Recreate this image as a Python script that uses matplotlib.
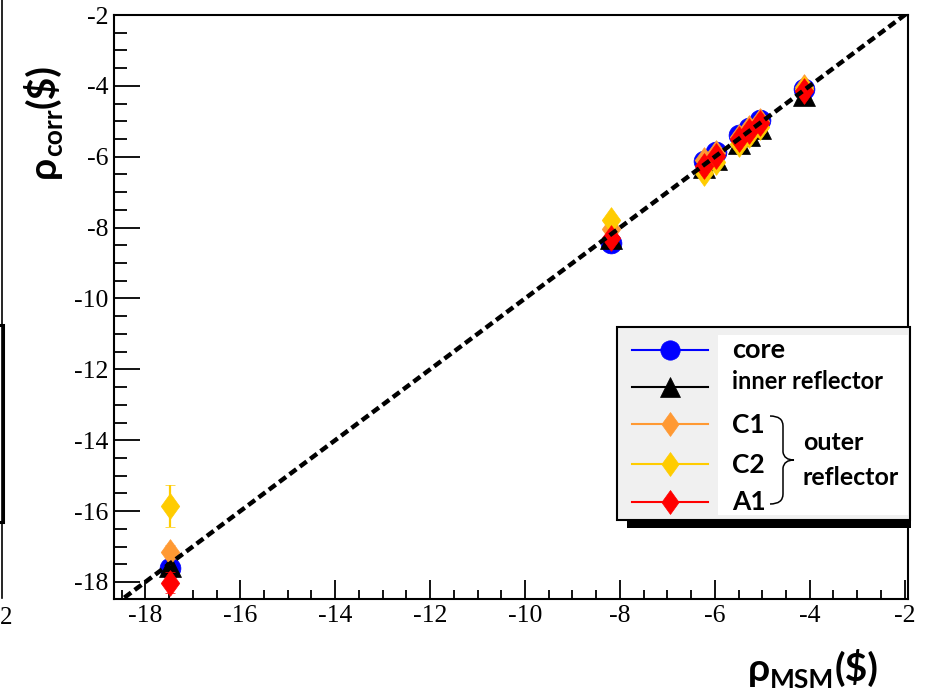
import matplotlib
matplotlib.use('Agg')
import matplotlib.pyplot as plt
from matplotlib.path import Path
from matplotlib.patches import Rectangle, PathPatch
from matplotlib.ticker import MultipleLocator, FixedLocator, FixedFormatter

# ---------------- data ----------------
rho_msm = [-17.48, -8.18, -6.22, -5.98, -5.50, -5.28, -5.05, -4.13]
rho_core = [-17.60, -8.42, -6.12, -5.87, -5.40, -5.18, -4.95, -4.08]
rho_inner = [-17.55, -8.30, -6.30, -6.05, -5.60, -5.40, -5.20, -4.25]
rho_c1 = [-17.15, -8.05, -6.10, -5.90, -5.45, -5.20, -5.00, -4.02]
rho_c2 = [-15.85, -7.78, -6.45, -6.15, -5.65, -5.40, -5.15, -4.10]
rho_a1 = [-18.02, -8.28, -6.25, -5.98, -5.50, -5.28, -5.05, -4.15]
err_core = [0.15, 0.10, 0.10, 0.10, 0.10, 0.10, 0.10, 0.10]
err_inner = [0.30, 0.10, 0.10, 0.10, 0.10, 0.10, 0.10, 0.10]
err_c1 = [0.20, 0.10, 0.10, 0.10, 0.10, 0.10, 0.10, 0.10]
err_c2 = [0.60, 0.10, 0.10, 0.10, 0.10, 0.10, 0.10, 0.10]
err_a1 = [0.30, 0.10, 0.10, 0.10, 0.10, 0.10, 0.10, 0.10]
series_labels = ['core', 'inner reflector', 'C1', 'C2', 'A1']
x_ticks = [-18, -16, -14, -12, -10, -8, -6, -4, -2]
x_tick_labels = ['-18', '-16', '-14', '-12', '-10', '-8', '-6', '-4', '-2']
y_ticks = [-18, -16, -14, -12, -10, -8, -6, -4, -2]
y_tick_labels = ['-18', '-16', '-14', '-12', '-10', '-8', '-6', '-4', '-2']
x_limits = (-18.66, -1.93)
y_limits = (-18.48, -2.0)

# ---------------- styles ----------------
W, H = 927, 696
col_core, col_inner, col_c1, col_c2, col_a1 = '#0000ff', '#000000', '#ff9933', '#ffcc00', '#ff0000'
diamond = Path([(0, 1), (0.72, 0), (0, -1), (-0.72, 0), (0, 1)],
               [Path.MOVETO, Path.LINETO, Path.LINETO, Path.LINETO, Path.CLOSEPOLY])
bold_sans = ['Lato', 'Open Sans', 'DejaVu Sans']

fig = plt.figure(figsize=(W / 100, H / 100), dpi=100)
ax = fig.add_axes([114 / W, 1 - 599 / H, (908 - 114) / W, (599 - 15) / H])
ax.set_xlim(*x_limits)
ax.set_ylim(*y_limits)

series = [
    (rho_core, err_core, 'o', 15, col_core),
    (rho_inner, err_inner, '^', 16, col_inner),
    (rho_c1, err_c1, diamond, 18.5, col_c1),
    (rho_c2, err_c2, diamond, 18.5, col_c2),
    (rho_a1, err_a1, diamond, 18.5, col_a1),
]
for i, ((ys, es, m, ms, c), lab) in enumerate(zip(series, series_labels)):
    ax.errorbar(rho_msm, ys, yerr=es, marker=m, ms=ms, color=c, mec=c, mew=0.5,
                linestyle='none', elinewidth=1.6, capsize=3.5, capthick=1.6,
                zorder=3 + i, label=lab)

ax.plot(x_limits, x_limits, color='black', lw=3.2, dashes=(1.9, 1.0), zorder=10)

for s in ax.spines.values():
    s.set_linewidth(1.5)
ax.xaxis.set_major_locator(FixedLocator(x_ticks))
ax.xaxis.set_major_formatter(FixedFormatter(x_tick_labels))
ax.yaxis.set_major_locator(FixedLocator(y_ticks))
ax.yaxis.set_major_formatter(FixedFormatter(y_tick_labels))
ax.xaxis.set_minor_locator(MultipleLocator(0.5))
ax.yaxis.set_minor_locator(MultipleLocator(0.5))
ax.tick_params(which='both', direction='in', top=False, right=False, width=1.3, colors='black',
               labelsize=18.5, labelfontfamily='Liberation Serif')
ax.tick_params(axis='x', which='major', length=13.5, pad=4)
ax.tick_params(axis='x', which='minor', length=6.5)
ax.tick_params(axis='y', which='major', length=18.5, pad=4)
ax.tick_params(axis='y', which='minor', length=9.5)

# ---------------- overlay (pixel coordinates) ----------------
ov = fig.add_axes([0, 0, 1, 1], zorder=20)
ov.set_xlim(0, W)
ov.set_ylim(H, 0)
ov.axis('off')

# legend box
ov.add_patch(Rectangle((627, 519), 284, 9, fc='black', ec='none'))
ov.add_patch(Rectangle((617, 327), 293, 193, fc='#f0f0f0', ec='black', lw=1.5))
ov.add_patch(Rectangle((718, 335), 190, 180, fc='white', ec='none'))
leg_y = [350, 387, 424, 464, 502]
for (ys, es, m, ms, c), yy in zip(series, leg_y):
    ov.plot([632, 708], [yy, yy], color=c, lw=1.5)
    ov.plot([670], [yy], marker=m, ms=ms * 0.93, color=c, mec=c, mew=0.5, linestyle='none')

def t(x, y, s, size, **kw):
    return ov.text(x, y, s, fontsize=size, fontweight='bold', family=bold_sans,
                   ha='left', va='baseline', **kw)

t(732, 358, series_labels[0], 19.5)
t(732, 389, series_labels[1], 17)
t(732, 433, series_labels[2], 19)
t(732, 473, series_labels[3], 19)
t(732, 510, series_labels[4], 19)
t(803, 450, 'outer', 18)
t(803, 485, 'reflector', 18)

brace = Path([(770, 416), (783, 416), (783, 426), (783, 452), (784, 460), (794, 460),
              (784, 460), (783, 468), (783, 494), (783, 504), (770, 504)],
             [Path.MOVETO, Path.CURVE3, Path.CURVE3, Path.LINETO, Path.CURVE3, Path.CURVE3,
              Path.CURVE3, Path.CURVE3, Path.LINETO, Path.CURVE3, Path.CURVE3])
ov.add_patch(PathPatch(brace, fc='none', ec='black', lw=1.1))

# axis titles built from pieces (main glyph, subscript, unit)
renderer = fig.canvas.get_renderer()

def label_pieces(x0, y0, pieces, vertical=False):
    pos = x0 if not vertical else y0
    for s, size, shift in pieces:
        if vertical:
            tx = ov.text(x0 + shift, pos, s, fontsize=size, fontweight='bold', family=bold_sans,
                         rotation=90, rotation_mode='anchor', ha='left', va='baseline')
            bb = tx.get_window_extent(renderer)
            pos -= bb.height
        else:
            tx = ov.text(pos, y0 + shift, s, fontsize=size, fontweight='bold', family=bold_sans,
                         ha='left', va='baseline')
            bb = tx.get_window_extent(renderer)
            pos += bb.width

label_pieces(748, 681, [('ρ', 28, 0), ('MSM', 19, 7), ('($)', 28, 0)])
label_pieces(55, 178, [('ρ', 28, 0), ('corr', 19, 7), ('($)', 28, 0)], vertical=True)

# fragments of the neighbouring panel at the left edge
ov.plot([2, 2], [0, 598], color='black', lw=1.2)
ov.add_patch(Rectangle((-10, 325), 13, 197, fc='none', ec='black', lw=2.2))
ov.text(0, 618, '2', fontsize=18, family='Liberation Serif', ha='left', va='center')

fig.savefig('out.png', dpi=100)
